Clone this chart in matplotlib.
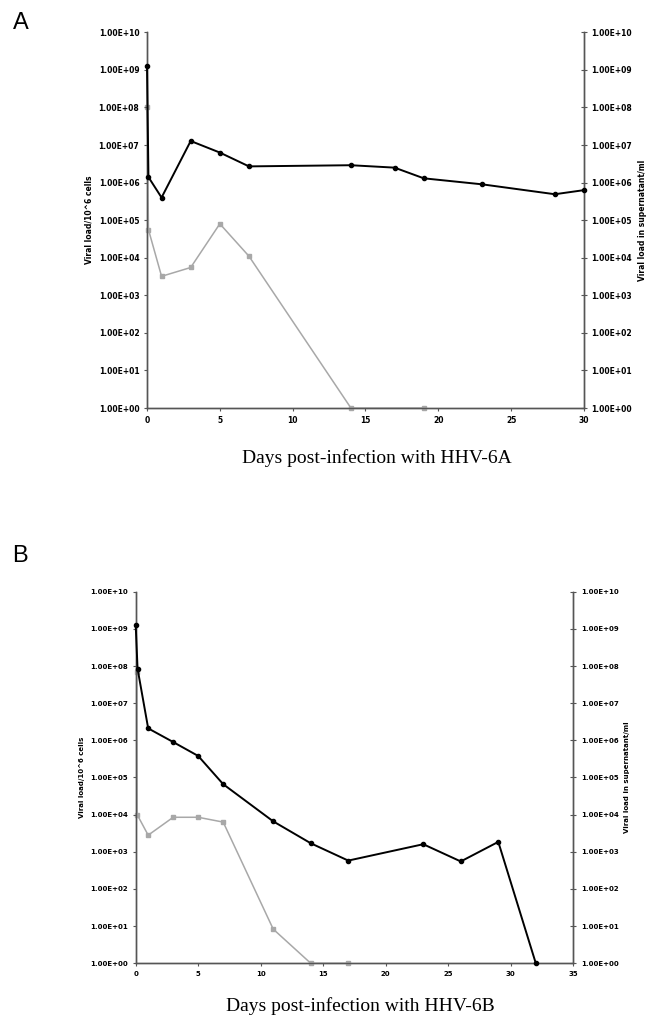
import math
import matplotlib.pyplot as plt
from matplotlib.ticker import FixedLocator, FuncFormatter

# HHV-6A: viral load per 10^6 cells (black) and in supernatant (gray)
dias_a_celulas = [0, 0.1, 1, 3, 5, 7, 14, 17, 19, 23, 28, 30]
carga_a_celulas = [1.3e9, 1.4e6, 4.0e5, 1.28e7, 6.3e6, 2.7e6, 2.9e6, 2.5e6, 1.3e6, 9.0e5, 4.9e5, 6.3e5]
dias_a_sobrenadante = [0, 0.1, 1, 3, 5, 7, 14, 19]
carga_a_sobrenadante = [1.0e8, 5.6e4, 3.2e3, 5.5e3, 8.0e4, 1.1e4, 1.0, 1.0]

# HHV-6B
dias_b_celulas = [0, 0.15, 1, 3, 5, 7, 11, 14, 17, 23, 26, 29, 32]
carga_b_celulas = [1.3e9, 8.5e7, 2.1e6, 9.0e5, 3.8e5, 6.6e4, 6.6e3, 1.7e3, 5.8e2, 1.6e3, 5.5e2, 1.85e3, 1.0]
dias_b_sobrenadante = [0.1, 0.12, 1, 3, 5, 7, 11, 14, 17]
carga_b_sobrenadante = [6.9e7, 1.0e4, 2.8e3, 8.5e3, 8.5e3, 6.3e3, 8.3, 1.0, 1.0]

decadas = [10.0 ** k for k in range(0, 11)]

COR_EIXO = '#555555'
COR_CINZA = '#a8a8a8'


def formato_e(v, pos):
    exp = int(round(math.log10(v)))
    return "1.00E+%02d" % exp


def montar_painel(fig, ret, xmax, xticks, celulas, sobrenadante, fs, titulo, letra, pos_letra, pos_titulo):
    ax = fig.add_axes(ret)
    ax2 = ax.twinx()
    for a in (ax, ax2):
        a.set_yscale('log')
        a.set_ylim(1, 1e10)
        a.set_xlim(0, xmax)
        a.yaxis.set_major_locator(FixedLocator(decadas))
        a.yaxis.set_minor_locator(FixedLocator([]))
        a.yaxis.set_major_formatter(FuncFormatter(formato_e))
        a.spines['top'].set_visible(False)
        for s in ('left', 'right', 'bottom'):
            a.spines[s].set_color(COR_EIXO)
            a.spines[s].set_linewidth(1.0)
        a.tick_params(axis='y', labelsize=fs, colors=COR_EIXO, labelcolor='black', width=0.8)
        for lbl in a.get_yticklabels():
            lbl.set_fontweight('bold')
    ax.tick_params(axis='y', direction='out', length=2)
    ax2.tick_params(axis='y', direction='inout', length=4)
    ax.set_xticks(xticks)
    ax.tick_params(axis='x', direction='out', length=2, labelsize=fs, colors=COR_EIXO, labelcolor='black')
    for lbl in ax.get_xticklabels():
        lbl.set_fontweight('bold')

    ax2.plot(sobrenadante[0], sobrenadante[1], color=COR_CINZA, lw=1.1, marker='s',
             markersize=2.5, clip_on=False, zorder=3)
    ax.plot(celulas[0], celulas[1], color='black', lw=1.4, marker='o',
            markersize=3, clip_on=False, zorder=4)
    ax.set_zorder(ax2.get_zorder() + 1)
    ax.patch.set_visible(False)

    ax.set_ylabel("Viral load/10^6 cells", fontsize=fs, fontweight='bold', labelpad=4)
    ax2.set_ylabel("Viral load in supernatant/ml", fontsize=fs, fontweight='bold', labelpad=4)

    fig.text(pos_titulo[0], pos_titulo[1], titulo, family='Liberation Serif', fontsize=14,
             ha='center', va='baseline')
    fig.text(pos_letra[0], pos_letra[1], letra, family='Liberation Sans', fontsize=17,
             ha='left', va='baseline')


fig = plt.figure(figsize=(6.47, 10.16), dpi=100)

montar_painel(fig, [0.2272, 0.5984, 0.6754, 0.3698], 30, [0, 5, 10, 15, 20, 25, 30],
              (dias_a_celulas, carga_a_celulas), (dias_a_sobrenadante, carga_a_sobrenadante),
              5.5, "Days post-infection with HHV-6A", "A",
              (13 / 647, 1 - 29 / 1016), (377 / 647, 1 - 463 / 1016))

montar_painel(fig, [0.2097, 0.0519, 0.6764, 0.3657], 35, [0, 5, 10, 15, 20, 25, 30, 35],
              (dias_b_celulas, carga_b_celulas), (dias_b_sobrenadante, carga_b_sobrenadante),
              5.0, "Days post-infection with HHV-6B", "B",
              (12 / 647, 1 - 562 / 1016), (360 / 647, 1 - 1011 / 1016))

plt.savefig("out.png", dpi=100)
